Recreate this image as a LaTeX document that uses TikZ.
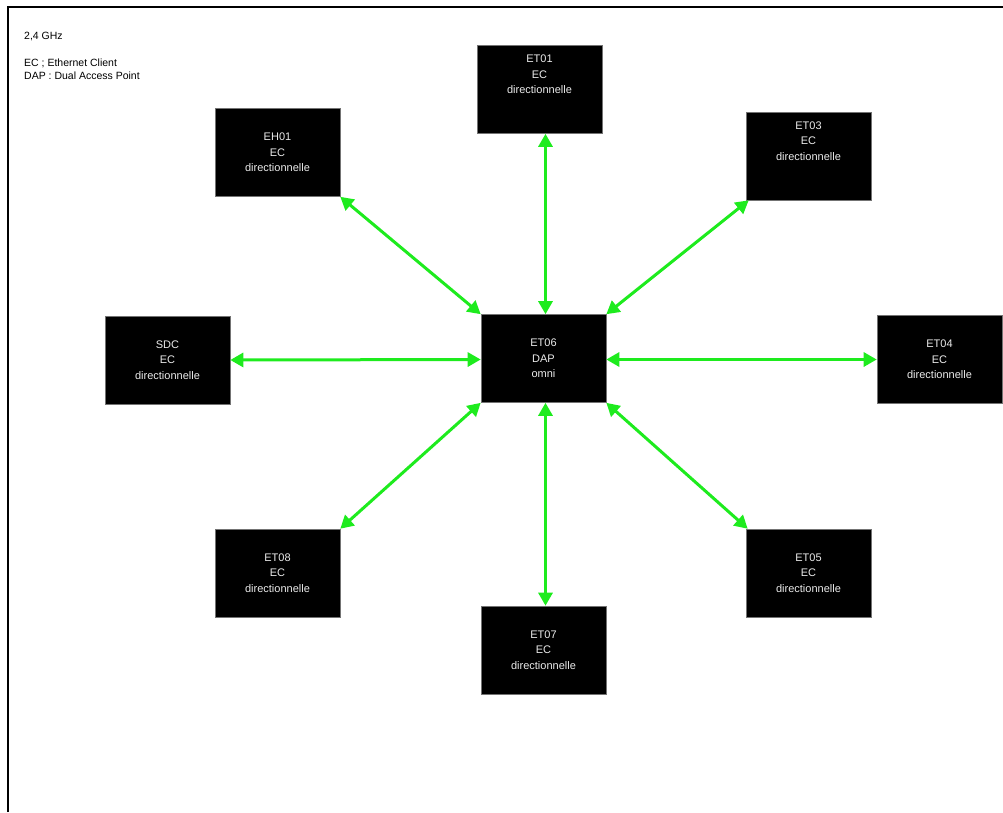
\documentclass[tikz,border=0pt]{standalone}
\usepackage{fontspec}
\setmainfont{Liberation Sans}
\usetikzlibrary{arrows.meta}
\definecolor{linkgreen}{RGB}{30,235,30}
\definecolor{boxtext}{RGB}{235,235,235}
\tikzset{
  station/.style={fill=black, draw=black!55, line width=0.6pt,
    minimum width=125pt, minimum height=88pt, inner sep=0pt,
    text=boxtext, align=center, font=\fontsize{11}{15.5}\selectfont},
  link/.style={draw=linkgreen, line width=3pt,
    {Triangle[length=13pt,width=14pt]}-{Triangle[length=13pt,width=14pt]}},
  legend/.style={anchor=north west, inner sep=0pt, align=left,
    font=\fontsize{10.5}{13}\selectfont}
}
\begin{document}
\begin{tikzpicture}[x=1pt,y=-1pt]
  \useasboundingbox (0,0) rectangle (1003,812);
  % frame (left and top edges)
  \draw[line width=2pt] (8,812) -- (8,7) -- (1003,7);

  % legend
  \node[legend] (freq) at (24,32) {2,4 GHz};
  \node[legend] (abbr) at (24,59) {EC ; Ethernet Client\\DAP : Dual Access Point};

  % stations
  \node[station] (et06) at (543.5,358.5) {ET06\\DAP\\omni};
  \node[station, text depth=30pt] (et01) at (539.5,89.5) {ET01\\EC\\directionnelle};
  \node[station] (eh01) at (277.5,152.5) {EH01\\EC\\directionnelle};
  \node[station, text depth=30pt] (et03) at (808.5,156) {ET03\\EC\\directionnelle};
  \node[station] (sdc) at (167.5,360) {SDC\\EC\\directionnelle};
  \node[station] (et04) at (939.5,359.5) {ET04\\EC\\directionnelle};
  \node[station] (et08) at (277.5,573) {ET08\\EC\\directionnelle};
  \node[station] (et05) at (808.5,573) {ET05\\EC\\directionnelle};
  \node[station] (et07) at (543.5,650) {ET07\\EC\\directionnelle};

  % radio links
  \draw[link] ([xshift=2pt]et06.north) -- ([xshift=6pt]et01.south);
  \draw[link] (et06.north west) -- (eh01.south east);
  \draw[link] (et06.north east) -- ([xshift=3pt]et03.south west);
  \draw[link] ([yshift=-1pt]et06.west) -- (sdc.east);
  \draw[link] ([yshift=-1pt]et06.east) -- (et04.west);
  \draw[link] (et06.south west) -- (et08.north east);
  \draw[link] (et06.south east) -- ([xshift=2pt]et05.north west);
  \draw[link] ([xshift=2pt]et06.south) -- ([xshift=2pt]et07.north);
\end{tikzpicture}
\end{document}
